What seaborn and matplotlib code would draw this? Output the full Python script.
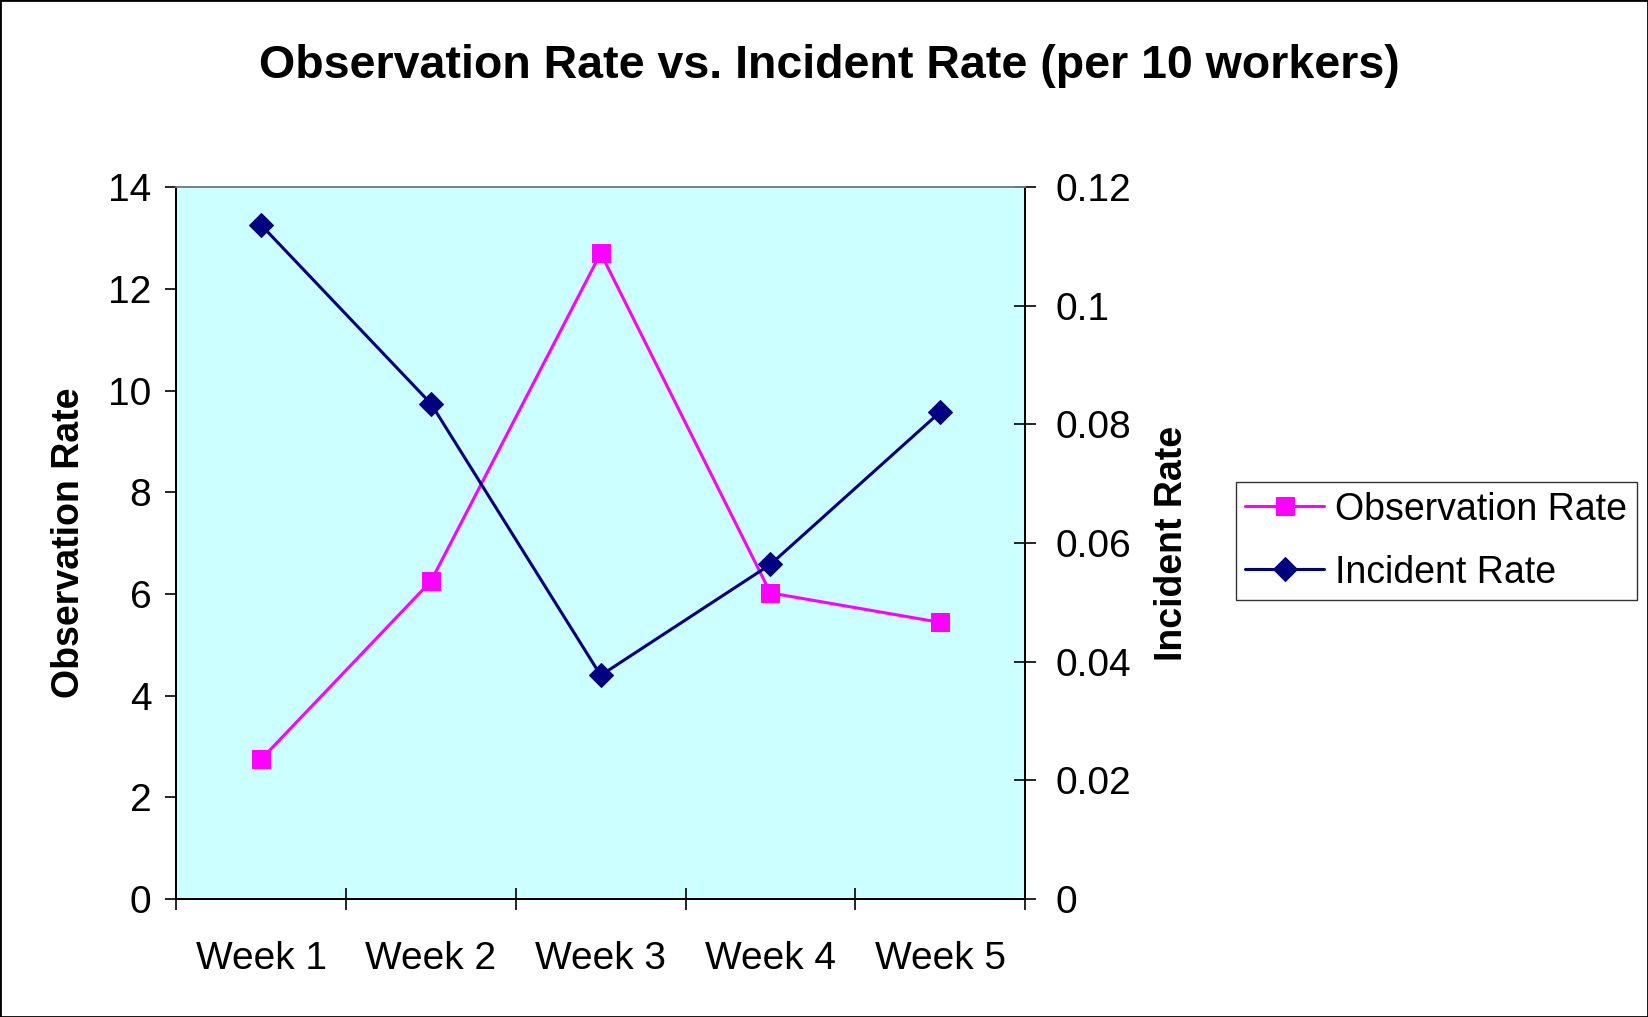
import numpy as np
import matplotlib
matplotlib.use("Agg")
import matplotlib.pyplot as plt
import seaborn as sns
from matplotlib.patches import Rectangle

sns.set_style("white")
plt.rcParams['font.family'] = ['Liberation Sans', 'DejaVu Sans']
plt.rcParams['text.color'] = 'black'
plt.rcParams['axes.labelcolor'] = 'black'
plt.rcParams['xtick.color'] = 'black'
plt.rcParams['ytick.color'] = 'black'

# data
weeks = ["Week 1", "Week 2", "Week 3", "Week 4", "Week 5"]
observation_rate = [2.75, 6.25, 12.7, 6.02, 5.44]
incident_rate = [0.1136, 0.0835, 0.0377, 0.0564, 0.0821]

x_pos = np.arange(len(weeks)) + 0.5

fig = plt.figure(figsize=(16.48, 10.17), dpi=100)
ax1 = fig.add_axes([0.107, 0.116, 0.515, 0.700])
ax1.set_facecolor("#CCFFFF")

sns.lineplot(x=x_pos, y=observation_rate, ax=ax1, color="#FF00FF", linewidth=2.2,
             marker="s", markersize=13, markeredgecolor="#FF00FF", label="Observation Rate")
ax2 = ax1.twinx()
sns.lineplot(x=x_pos, y=incident_rate, ax=ax2, color="#000080", linewidth=2.2,
             marker="D", markersize=12, markeredgecolor="#000080", label="Incident Rate")

# left axis
ax1.set_xlim(0, 5)
ax1.set_ylim(0, 14)
ax1.set_yticks(np.arange(0, 15, 2))
ax1.set_yticklabels([str(v) for v in range(0, 15, 2)], fontsize=28)
ax1.set_ylabel("Observation Rate", fontsize=27, fontweight="bold", labelpad=15)
ax1.tick_params(axis="y", direction="out", length=8, width=1.2, pad=10)

# category ticks between weeks, labels centred
ax1.set_xticks(np.arange(0, 6))
ax1.set_xticklabels([])
ax1.set_xticks(x_pos, minor=True)
ax1.set_xticklabels(weeks, minor=True, fontsize=28)
ax1.tick_params(axis="x", which="major", direction="inout", length=16, width=1.2, bottom=True)
ax1.tick_params(axis="x", which="minor", length=0, pad=30)

# right axis
ax2.set_ylim(0, 0.12)
r_ticks = [0, 0.02, 0.04, 0.06, 0.08, 0.1, 0.12]
ax2.set_yticks(r_ticks)
ax2.set_yticklabels(["0", "0.02", "0.04", "0.06", "0.08", "0.1", "0.12"], fontsize=28)
ax2.set_ylabel("Incident Rate", fontsize=27, fontweight="bold", labelpad=16)
ax2.tick_params(axis="y", direction="inout", length=16, width=1.2, pad=14, right=True)

for a in (ax1, ax2):
    for s in a.spines.values():
        s.set_linewidth(1.3)
        s.set_color("black")
ax1.spines["top"].set_color("#808080")
ax2.spines["top"].set_color("#808080")

# legend outside the plot
ax1.get_legend().remove()
ax2.get_legend().remove()
h1, l1 = ax1.get_legend_handles_labels()
h2, l2 = ax2.get_legend_handles_labels()
leg = fig.legend(h1 + h2, l1 + l2, loc="center left", bbox_to_anchor=(0.750, 0.468),
                 fontsize=27, frameon=True, fancybox=False, handlelength=2.1,
                 handletextpad=0.3, borderpad=0.25, labelspacing=0.72, borderaxespad=0)
leg.get_frame().set_edgecolor("black")
leg.get_frame().set_linewidth(1.0)

fig.suptitle("Observation Rate vs. Incident Rate (per 10 workers)", fontsize=33.5,
             fontweight="bold", x=0.503, y=0.957)

# chart border
fig.patches.append(Rectangle((0, 0), 1, 1, transform=fig.transFigure, fill=False,
                             edgecolor="black", linewidth=2))

plt.savefig("out.png", dpi=100)
plt.close()
